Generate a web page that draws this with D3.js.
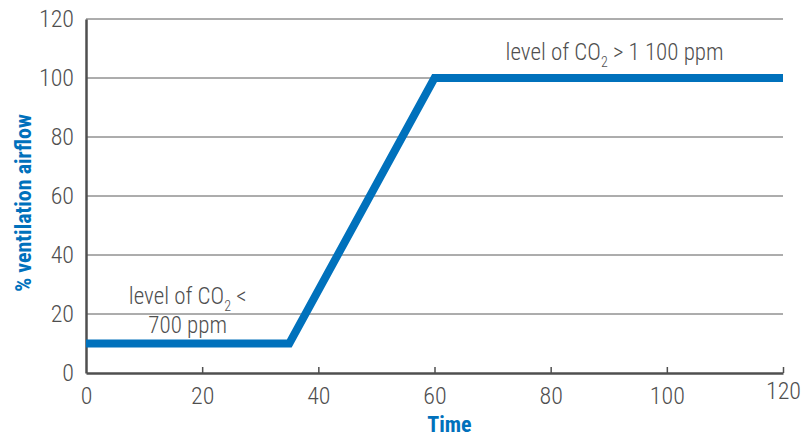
<!DOCTYPE html>
<html>
<head>
<meta charset="utf-8">
<script src="https://cdn.jsdelivr.net/npm/d3@7"></script>
<style>
  html, body { margin: 0; padding: 0; background: #fff; }
  svg text { font-family: "Roboto Condensed", "Liberation Sans Narrow", "Arial Narrow", Roboto, sans-serif; font-stretch: condensed; }
</style>
</head>
<body>
<div id="chart"></div>
<script>
// ── Data ─────────────────────────────────────────────
const timeValues = [0, 35, 60, 120];
const airflowValues = [10, 10, 100, 100];
const xTicks = [0, 20, 40, 60, 80, 100, 120];
const yTicks = [0, 20, 40, 60, 80, 100, 120];

const BLUE = '#0071bc';
const GREY = '#4f4f4f';

const width = 810, height = 437;
const margin = { top: 19, right: 27, bottom: 64, left: 86 };
const w = width - margin.left - margin.right;
const h = height - margin.top - margin.bottom;

const svg = d3.select('#chart').append('svg')
    .attr('width', width)
    .attr('height', height);

const g = svg.append('g')
    .attr('transform', `translate(${margin.left},${margin.top})`);

const x = d3.scaleLinear().domain([0, 120]).range([0, w]);
const y = d3.scaleLinear().domain([0, 120]).range([h, 0]);

// gridlines
g.selectAll('.grid')
    .data(yTicks.filter(d => d > 0))
    .join('line')
    .attr('class', 'grid')
    .attr('x1', 0).attr('x2', w)
    .attr('y1', d => y(d)).attr('y2', d => y(d))
    .attr('stroke', '#5a5a5a')
    .attr('stroke-width', 1);

// y axis
const yAxis = g.append('g')
    .call(d3.axisLeft(y).tickValues(yTicks).tickSize(0).tickPadding(12));
yAxis.select('.domain').attr('stroke', GREY).attr('stroke-width', 2.5);
yAxis.selectAll('text')
    .attr('fill', GREY).attr('font-size', 24).attr('font-weight', 300)
    .attr('font-family', null);

// x axis
const xAxis = g.append('g')
    .attr('transform', `translate(0,${h})`)
    .call(d3.axisBottom(x).tickValues(xTicks).tickSize(-6).tickPadding(14).tickSizeOuter(0));
xAxis.select('.domain').attr('stroke', GREY).attr('stroke-width', 2.5);
xAxis.selectAll('.tick line').attr('stroke', GREY).attr('stroke-width', 1.5)
    .attr('display', d => d === 0 ? 'none' : null);
xAxis.selectAll('text')
    .attr('fill', GREY).attr('font-size', 24).attr('font-weight', 300)
    .attr('font-family', null)
    .attr('dy', d => d === 120 ? '0.5em' : '0.71em');

// line
const line = d3.line()
    .x((d, i) => x(timeValues[i]))
    .y(d => y(d));

g.append('path')
    .datum(airflowValues)
    .attr('d', line)
    .attr('fill', 'none')
    .attr('stroke', BLUE)
    .attr('stroke-width', 8)
    .attr('stroke-linejoin', 'miter');

// annotations
function co2Label(cx, cy, before, after) {
    const t = g.append('text')
        .attr('x', x(cx)).attr('y', y(cy))
        .attr('text-anchor', 'middle')
        .attr('fill', GREY)
        .attr('font-size', 23)
        .attr('font-weight', 300);
    t.append('tspan').text(before);
    t.append('tspan').text('2').attr('font-size', 14).attr('dy', 7);
    t.append('tspan').text(after).attr('dy', -7);
    return t;
}
co2Label(17.5, 23.5, 'level of CO', ' <');
g.append('text')
    .attr('x', x(17.5)).attr('y', y(13.5))
    .attr('text-anchor', 'middle')
    .attr('fill', GREY)
    .attr('font-size', 23)
    .attr('font-weight', 300)
    .text('700 ppm');
co2Label(91, 106, 'level of CO', ' > 1 100 ppm');

// axis titles
svg.append('text')
    .attr('transform', `translate(31,${margin.top + h / 2 + 7}) rotate(-90)`)
    .attr('text-anchor', 'middle')
    .attr('fill', BLUE)
    .attr('font-weight', 'bold')
    .attr('font-size', 22)
    .text('% ventilation airflow');

svg.append('text')
    .attr('x', margin.left + x(60) + 15)
    .attr('y', 432)
    .attr('text-anchor', 'middle')
    .attr('fill', BLUE)
    .attr('font-weight', 'bold')
    .attr('font-size', 22)
    .text('Time');
</script>
</body>
</html>
